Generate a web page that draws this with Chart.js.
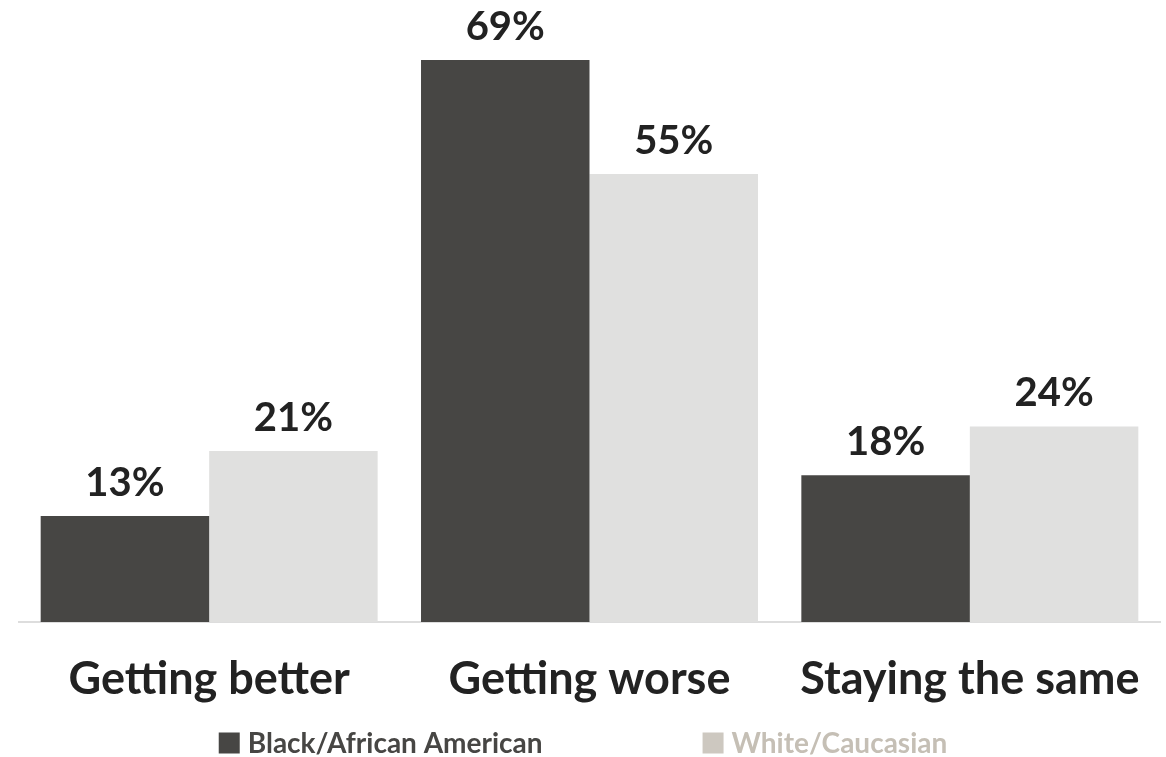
<!DOCTYPE html>
<html><head><meta charset="utf-8">
<script src="https://cdn.jsdelivr.net/npm/chart.js@4.4.0/dist/chart.umd.min.js"></script>
<style>html,body{margin:0;padding:0;background:#fff;}#wrap{width:1166px;height:757px;position:relative;}</style>
</head><body><div id="wrap"><canvas id="c" width="1166" height="757"></canvas></div>
<script>
const categories = ["Getting better", "Getting worse", "Staying the same"];
const seriesNames = ["Black/African American", "White/Caucasian"];
const blackValues = [13, 69, 18];
const whiteValues = [21, 55, 24];

const FONT = "Lato, 'Open Sans', sans-serif";
const BAR_COLORS = ["#474644", "#e0e0df"];
const LEGEND_BOX = ["#474644", "#cdc8c0"];
const LEGEND_TEXT = ["#474644", "#c5bfb5"];

const valueLabels = {
  id: 'valueLabels',
  afterDatasetsDraw(chart) {
    const ctx = chart.ctx;
    ctx.save();
    ctx.font = "bold 40px " + FONT;
    ctx.fillStyle = "#222222";
    ctx.textAlign = "center";
    ctx.textBaseline = "alphabetic";
    chart.data.datasets.forEach((ds, i) => {
      chart.getDatasetMeta(i).data.forEach((bar, j) => {
        ctx.fillText(ds.data[j] + "%", bar.x, bar.y - 20);
      });
    });
    ctx.restore();
  }
};

const customLegend = {
  id: 'customLegend',
  afterDraw(chart) {
    const ctx = chart.ctx;
    ctx.save();
    ctx.font = "bold 28px " + FONT;
    ctx.textBaseline = "middle";
    ctx.textAlign = "left";
    const box = 21, gapText = 8, gapItem = 160;
    const widths = seriesNames.map(n => box + gapText + ctx.measureText(n).width);
    const total = widths.reduce((a, b) => a + b, 0) + gapItem * (seriesNames.length - 1);
    let x = chart.width / 2 - total / 2;
    const cy = 743;
    seriesNames.forEach((n, i) => {
      ctx.fillStyle = LEGEND_BOX[i];
      ctx.fillRect(x, cy - box / 2, box, box);
      ctx.fillStyle = LEGEND_TEXT[i];
      ctx.fillText(n, x + box + gapText, cy + 1);
      x += widths[i] + gapItem;
    });
    ctx.restore();
  }
};

new Chart(document.getElementById('c'), {
  type: 'bar',
  data: {
    labels: categories,
    datasets: [
      { label: seriesNames[0], data: blackValues, backgroundColor: BAR_COLORS[0], categoryPercentage: 0.886, barPercentage: 1.0 },
      { label: seriesNames[1], data: whiteValues, backgroundColor: BAR_COLORS[1], categoryPercentage: 0.886, barPercentage: 1.0 }
    ]
  },
  options: {
    responsive: false,
    animation: false,
    layout: { padding: { left: 19, right: 6, top: 11, bottom: 21 } },
    scales: {
      y: { display: false, min: 0, max: 75 },
      x: {
        grid: { display: false, drawTicks: false },
        border: { display: true, color: "#dddddd", width: 2 },
        ticks: { color: "#222222", font: { family: FONT, size: 45, weight: 'bold' }, padding: 30 },
        afterFit(scale) { scale.paddingLeft = 0; scale.paddingRight = 0; }
      }
    },
    plugins: {
      tooltip: { enabled: false },
      legend: { display: false }
    }
  },
  plugins: [valueLabels, customLegend]
});
</script></body></html>
